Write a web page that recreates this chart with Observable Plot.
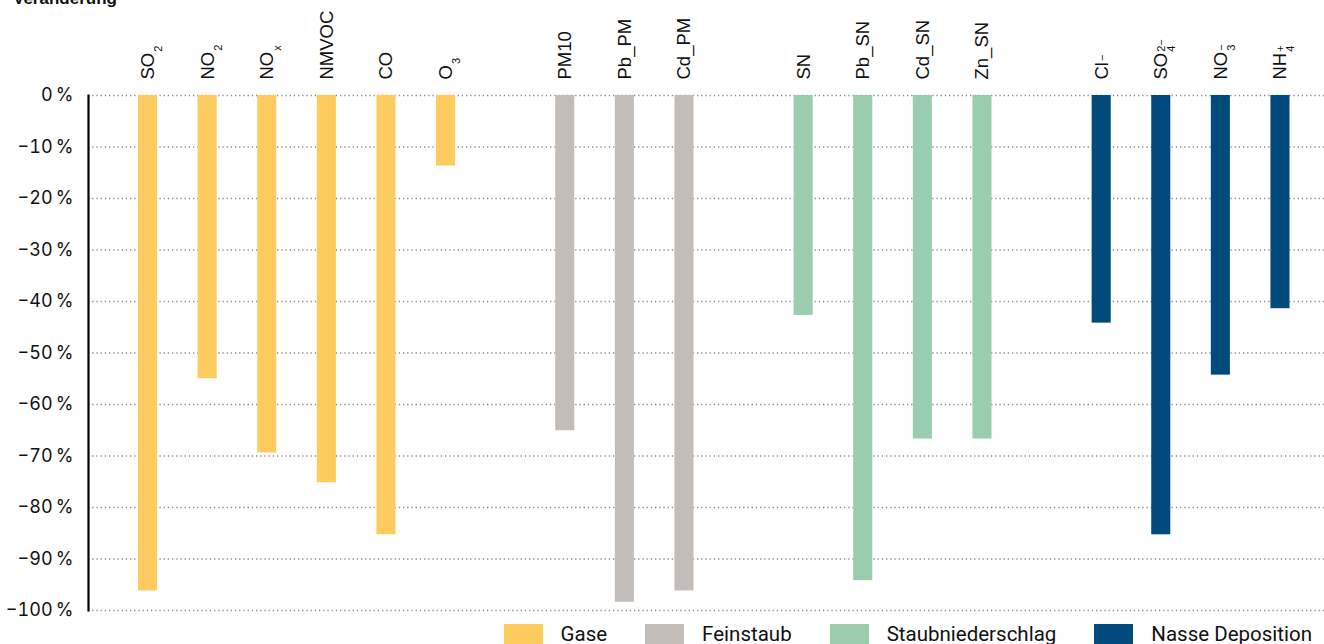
<!DOCTYPE html>
<html>
<head>
<meta charset="utf-8">
<script src="https://cdn.jsdelivr.net/npm/d3@7"></script>
<script src="https://cdn.jsdelivr.net/npm/@observablehq/plot@0.6"></script>
<style>
  html, body { margin: 0; padding: 0; background: #fff; overflow: hidden; }
  #wrap { position: relative; width: 1324px; height: 644px; }
  #title { position: absolute; left: 13px; top: -10px; font: bold 17px "Liberation Sans", Arial, sans-serif; line-height: 18px; color: #111; }
  #chart { position: absolute; left: 0; top: 0; }
  #legend { position: absolute; right: 12px; top: 624px; display: flex; align-items: center; font: 20.5px Roboto, sans-serif; line-height: 20px; color: #111; }
  #legend .item { display: flex; align-items: center; margin-left: 38px; }
  #legend .sw { width: 39px; height: 20px; margin-right: 18px; }
  .toplab text { font-size: 18.5px; }
</style>
</head>
<body>
<div id="wrap">
  <div id="chart"></div>
  <div id="title">Veränderung</div>
  <div id="legend"></div>
</div>
<script>
// ---- data ----
const categories = ["SO2","NO2","NOx","NMVOC","CO","O3","PM10","Pb_PM","Cd_PM","SN","Pb_SN","Cd_SN","Zn_SN","Cl","SO4","NO3","NH4"];
const groupOf    = ["Gase","Gase","Gase","Gase","Gase","Gase","Feinstaub","Feinstaub","Feinstaub","Staubniederschlag","Staubniederschlag","Staubniederschlag","Staubniederschlag","Nasse Deposition","Nasse Deposition","Nasse Deposition","Nasse Deposition"];
const values     = [-96.2, -55.0, -69.4, -75.2, -85.3, -13.7, -65.1, -98.4, -96.2, -42.7, -94.2, -66.7, -66.7, -44.2, -85.3, -54.3, -41.4];
const labelMain  = ["SO","NO","NO","NMVOC","CO","O","PM10","Pb_PM","Cd_PM","SN","Pb_SN","Cd_SN","Zn_SN","Cl","SO","NO","NH"];
const labelSup   = ["","","","","","","","","","","","","","\u2212","2\u2212","\u2212","+"];
const labelSub   = ["2","2","x","","","3","","","","","","","","","4","3","4"];
const groups     = ["Gase","Feinstaub","Staubniederschlag","Nasse Deposition"];
const colors     = ["#fecb5f","#c2bdb9","#99cdae","#004b7c"];
const yTicks     = [0,-10,-20,-30,-40,-50,-60,-70,-80,-90,-100];

const data = categories.map((c, i) => ({key: c, group: groupOf[i], value: values[i], i}));

// x domain: categories with an empty slot between groups
const slots = [];
data.forEach((d, i) => {
  if (i > 0 && d.group !== data[i - 1].group) slots.push("gap" + i);
  slots.push(d.key);
});

const fmt = d => (d < 0 ? "\u2212" : "") + Math.abs(d) + "\u2009%";

const plot = Plot.plot({
  width: 1324,
  height: 620,
  marginTop: 95,
  marginBottom: 10,
  marginLeft: 88,
  marginRight: 0,
  style: {fontFamily: "'Liberation Sans', Arial, sans-serif", fontSize: "17px", color: "#111", background: "transparent"},
  x: {type: "band", domain: slots, range: [138, 1289.5], paddingInner: 0.68, paddingOuter: 0, round: false, axis: null},
  y: {domain: [-100, 0]},
  color: {domain: groups, range: colors},
  marks: [
    Plot.gridY(yTicks, {stroke: "#8a8a8a", strokeOpacity: 1, strokeWidth: 1.3, strokeDasharray: "1.3,2.9"}),
    Plot.axisY(yTicks, {tickSize: 0, tickPadding: 15, tickFormat: fmt, label: null, fontSize: 18, fontFamily: "Inter, sans-serif"}),
    Plot.barY(data, {x: "key", y: "value", fill: "group"}),
    Plot.frame({anchor: "left", stroke: "#000", strokeWidth: 2.2}),
    Plot.text(data, {x: "key", y: () => 0, text: d => labelMain[d.i], rotate: -90, textAnchor: "start", lineAnchor: "middle", dy: -16, fontSize: 18.5, fill: "#111", className: "toplab"})
  ]
});
document.getElementById("chart").appendChild(plot);

// add sub/superscripts to the top labels
const ns = "http://www.w3.org/2000/svg";
plot.querySelectorAll(".toplab text").forEach((t, k) => {
  t.style.fontSize = "18.5px";
  const sup = labelSup[k], sub = labelSub[k];
  if (!sup && !sub) return;
  let supLen = 0;
  if (sup) {
    const s = document.createElementNS(ns, "tspan");
    s.style.fontSize = "11px";
    s.setAttribute("dx", "1");
    s.setAttribute("dy", "-2");
    s.textContent = sup;
    t.appendChild(s);
    supLen = s.getComputedTextLength();
  }
  if (sub) {
    const s = document.createElementNS(ns, "tspan");
    s.style.fontSize = "11px";
    s.setAttribute("dy", sup ? "10" : "8");
    s.setAttribute("dx", sup ? String(-supLen) : "1");
    s.textContent = sub;
    t.appendChild(s);
  }
});

// legend
const leg = document.getElementById("legend");
groups.forEach((g, i) => {
  const it = document.createElement("div");
  it.className = "item";
  const sw = document.createElement("div");
  sw.className = "sw";
  sw.style.background = colors[i];
  const lb = document.createElement("span");
  lb.textContent = g;
  it.appendChild(sw); it.appendChild(lb);
  leg.appendChild(it);
});
</script>
</body>
</html>
